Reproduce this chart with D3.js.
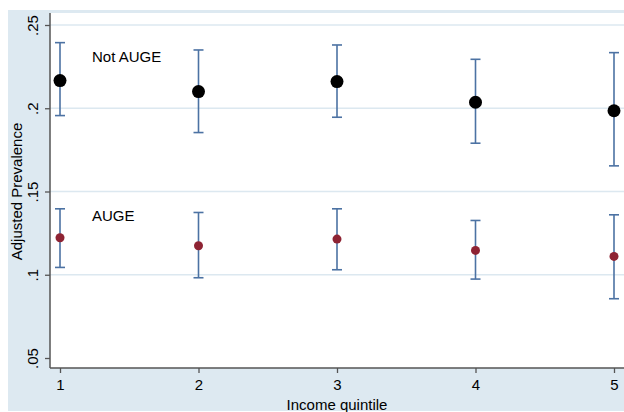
<!DOCTYPE html>
<html>
<head>
<meta charset="utf-8">
<script src="https://cdn.jsdelivr.net/npm/d3@7"></script>
<style>
  body { margin: 0; background: #fff; }
  svg { display: block; font-family: 'Liberation Sans', Arial, sans-serif; }
</style>
</head>
<body>
<div id="wrapper"></div>
<script>
const quintiles = [1, 2, 3, 4, 5]
const notAugeMean = [0.2166, 0.2100, 0.2160, 0.2036, 0.1985]
const notAugeLow = [0.1956, 0.1854, 0.1946, 0.1790, 0.1654]
const notAugeHigh = [0.2394, 0.2350, 0.2380, 0.2294, 0.2334]
const augeMean = [0.1222, 0.1174, 0.1214, 0.1146, 0.1110]
const augeLow = [0.1044, 0.0982, 0.1030, 0.0974, 0.0856]
const augeHigh = [0.1396, 0.1374, 0.1396, 0.1326, 0.1360]
const yTicks = [0.05, 0.1, 0.15, 0.2, 0.25]
const yTickLabels = ['.05', '.1', '.15', '.2', '.25']

const dimensions = {
  width: 624,
  height: 412,
  plotLeft: 50,
  plotTop: 13,
  plotBottom: 368,
}

const notAuge = quintiles.map((q, i) => ({ q, m: notAugeMean[i], lo: notAugeLow[i], hi: notAugeHigh[i] }))
const auge = quintiles.map((q, i) => ({ q, m: augeMean[i], lo: augeLow[i], hi: augeHigh[i] }))

const svg = d3.select('#wrapper')
  .append('svg')
  .attr('width', dimensions.width)
  .attr('height', dimensions.height)

// outer graph region
svg.append('rect')
  .attr('x', 8).attr('y', 10)
  .attr('width', dimensions.width - 8).attr('height', 401)
  .attr('fill', '#dde9f1')

svg.append('rect')
  .attr('x', dimensions.plotLeft).attr('y', dimensions.plotTop)
  .attr('width', dimensions.width - dimensions.plotLeft)
  .attr('height', dimensions.plotBottom - dimensions.plotTop)
  .attr('fill', '#fff')

const xScale = d3.scaleLinear()
  .domain([1, 5])
  .range([60, 614])

const yScale = d3.scaleLinear()
  .domain([0.05, 0.25])
  .range([358, 25])

// gridlines
svg.append('g')
  .selectAll('line')
  .data(yTicks.filter(d => d > 0.05))
  .enter().append('line')
  .attr('x1', dimensions.plotLeft)
  .attr('x2', dimensions.width)
  .attr('y1', d => yScale(d))
  .attr('y2', d => yScale(d))
  .attr('stroke', '#dce8f0')
  .attr('stroke-width', 1.6)

// y axis
const yAxisGenerator = d3.axisLeft(yScale)
  .tickValues(yTicks)
  .tickFormat((d, i) => yTickLabels[i])
  .tickSize(5)
  .tickSizeOuter(0)

const yAxis = svg.append('g')
  .attr('transform', `translate(${dimensions.plotLeft},0)`)
  .call(yAxisGenerator)

yAxis.select('.domain').remove()
yAxis.selectAll('.tick line').attr('stroke', '#555').attr('stroke-width', 1.3)
yAxis.selectAll('.tick text')
  .attr('fill', '#000')
  .attr('font-size', 15)
  .attr('text-anchor', 'middle')
  .attr('x', 0).attr('dy', 0)
  .attr('transform', 'translate(-12,0) rotate(-90)')

svg.append('line')
  .attr('x1', dimensions.plotLeft).attr('x2', dimensions.plotLeft)
  .attr('y1', dimensions.plotTop).attr('y2', dimensions.plotBottom)
  .attr('stroke', '#555').attr('stroke-width', 1.5)

// x axis
const xAxisGenerator = d3.axisBottom(xScale)
  .tickValues(quintiles)
  .tickFormat(d3.format('d'))
  .tickSize(5)
  .tickSizeOuter(0)

const xAxis = svg.append('g')
  .attr('transform', `translate(0,${dimensions.plotBottom})`)
  .call(xAxisGenerator)

xAxis.select('.domain').remove()
xAxis.selectAll('.tick line').attr('stroke', '#555').attr('stroke-width', 1.3)
xAxis.selectAll('.tick text')
  .attr('fill', '#000')
  .attr('font-size', 15)
  .attr('y', 11)

svg.append('line')
  .attr('x1', dimensions.plotLeft).attr('x2', dimensions.width)
  .attr('y1', dimensions.plotBottom).attr('y2', dimensions.plotBottom)
  .attr('stroke', '#555').attr('stroke-width', 1.5)

svg.append('text')
  .attr('x', xScale(3))
  .attr('y', 410)
  .attr('text-anchor', 'middle')
  .attr('font-size', 15)
  .attr('fill', '#000')
  .text('Income quintile')

svg.append('text')
  .attr('transform', `translate(22,${yScale(0.15)}) rotate(-90)`)
  .attr('text-anchor', 'middle')
  .attr('font-size', 15)
  .attr('fill', '#000')
  .text('Adjusted Prevalence')

// error bars
function drawBars(data) {
  const g = svg.append('g')
  g.selectAll('line.stem')
    .data(data)
    .enter().append('line')
    .attr('x1', d => xScale(d.q)).attr('x2', d => xScale(d.q))
    .attr('y1', d => yScale(d.lo)).attr('y2', d => yScale(d.hi))
    .attr('stroke', '#4c72a3').attr('stroke-width', 1.6)
  g.selectAll('line.capHi')
    .data(data)
    .enter().append('line')
    .attr('x1', d => xScale(d.q) - 5).attr('x2', d => xScale(d.q) + 5)
    .attr('y1', d => yScale(d.hi)).attr('y2', d => yScale(d.hi))
    .attr('stroke', '#4c72a3').attr('stroke-width', 1.6)
  g.selectAll('line.capLo')
    .data(data)
    .enter().append('line')
    .attr('x1', d => xScale(d.q) - 5).attr('x2', d => xScale(d.q) + 5)
    .attr('y1', d => yScale(d.lo)).attr('y2', d => yScale(d.lo))
    .attr('stroke', '#4c72a3').attr('stroke-width', 1.6)
}

drawBars(notAuge)
drawBars(auge)

svg.append('g')
  .selectAll('circle')
  .data(auge)
  .enter().append('circle')
  .attr('cx', d => xScale(d.q))
  .attr('cy', d => yScale(d.m))
  .attr('r', 4.5)
  .attr('fill', '#8e2333')

svg.append('g')
  .selectAll('circle')
  .data(notAuge)
  .enter().append('circle')
  .attr('cx', d => xScale(d.q))
  .attr('cy', d => yScale(d.m))
  .attr('r', 6.5)
  .attr('fill', '#000')

svg.append('text')
  .attr('x', 92).attr('y', 62)
  .attr('font-size', 15)
  .attr('fill', '#000')
  .text('Not AUGE')

svg.append('text')
  .attr('x', 92).attr('y', 221)
  .attr('font-size', 15)
  .attr('fill', '#000')
  .text('AUGE')
</script>
</body>
</html>
